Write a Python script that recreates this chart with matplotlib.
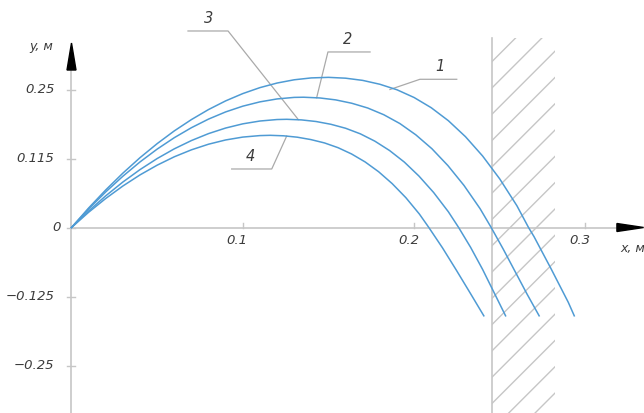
import numpy as np
import matplotlib.pyplot as plt
from matplotlib.patches import Polygon, Rectangle

# trajectories 1..4 (x, y in metres)
x1 = [0, 0.01, 0.02, 0.03, 0.04, 0.05, 0.06, 0.07, 0.08, 0.09, 0.10, 0.11, 0.12, 0.13, 0.14, 0.15,
      0.16, 0.17, 0.18, 0.19, 0.20, 0.21, 0.22, 0.23, 0.24, 0.25, 0.26, 0.2668, 0.27, 0.28, 0.29, 0.2935]
y1 = [0, 0.0353, 0.0681, 0.0985, 0.1265, 0.1519, 0.1750, 0.1955, 0.2137, 0.2294, 0.2426, 0.2534, 0.2617,
      0.2676, 0.2710, 0.2720, 0.2705, 0.2665, 0.2595, 0.2495, 0.2355, 0.2170, 0.1935, 0.1645, 0.1295,
      0.0880, 0.0395, 0.0, -0.0165, -0.0750, -0.1355, -0.1600]

x2 = [0, 0.01, 0.02, 0.03, 0.04, 0.05, 0.06, 0.07, 0.08, 0.09, 0.10, 0.11, 0.12, 0.13, 0.1355,
      0.1449, 0.1542, 0.1636, 0.1729, 0.1823, 0.1917, 0.2010, 0.2104, 0.2197, 0.2291, 0.2385, 0.245,
      0.252, 0.259, 0.266, 0.273]
y2 = [0, 0.0336, 0.0645, 0.0929, 0.1188, 0.1420, 0.1627, 0.1808, 0.1964, 0.2094, 0.2198, 0.2276, 0.2329,
      0.2357, 0.2360, 0.2347, 0.2312, 0.2251, 0.2165, 0.2043, 0.1883, 0.1679, 0.1427, 0.1123, 0.0763,
      0.0342, 0.0, -0.039, -0.080, -0.121, -0.160]

x3 = [0, 0.01, 0.02, 0.03, 0.04, 0.05, 0.06, 0.07, 0.08, 0.09, 0.10, 0.11, 0.12, 0.1257,
      0.1343, 0.1428, 0.1514, 0.1600, 0.1686, 0.1771, 0.1857, 0.1943, 0.2028, 0.2114, 0.2200, 0.226,
      0.233, 0.240, 0.2467, 0.2534]
y3 = [0, 0.0299, 0.0574, 0.0824, 0.1049, 0.1249, 0.1425, 0.1575, 0.1701, 0.1802, 0.1878, 0.1929, 0.1956,
      0.1960, 0.1949, 0.1920, 0.1870, 0.1798, 0.1697, 0.1564, 0.1394, 0.1185, 0.0933, 0.0634, 0.0285, 0.0,
      -0.036, -0.076, -0.118, -0.160]

x4 = [0, 0.01, 0.02, 0.03, 0.04, 0.05, 0.06, 0.07, 0.08, 0.09, 0.10, 0.11, 0.116,
      0.1239, 0.1318, 0.1397, 0.1477, 0.1556, 0.1635, 0.1714, 0.1793, 0.1872, 0.1952, 0.2031, 0.2086,
      0.2166, 0.2246, 0.2326, 0.2407]
y4 = [0, 0.0276, 0.0526, 0.0752, 0.0953, 0.1129, 0.1281, 0.1407, 0.1509, 0.1586, 0.1638, 0.1665, 0.1670,
      0.1661, 0.1636, 0.1593, 0.1532, 0.1446, 0.1332, 0.1188, 0.1010, 0.0795, 0.0540, 0.0243, 0.0,
      -0.037, -0.077, -0.118, -0.160]

xticks = [0.1, 0.2, 0.3]
xtick_labels = ['0.1', '0.2', '0.3']
yticks = [0.25, 0.125, 0, -0.125, -0.25]
ytick_labels = ['0.25', '0.115', '0', '\u22120.125', '\u22120.25']

wall_x = 0.2454  # obstacle face

# leader lines: point on curve, knee, shelf end, label position
leaders = [
    ('1', (0.1859, 0.2500), (0.2034, 0.2685), (0.2249, 0.2685), (0.2153, 0.2915)),
    ('2', (0.1431, 0.2350), (0.1497, 0.3180), (0.1743, 0.3180), (0.1614, 0.3400)),
    ('3', (0.1324, 0.1955), (0.0914, 0.3560), (0.0680, 0.3560), (0.0803, 0.3790)),
    ('4', (0.1256, 0.1655), (0.1169, 0.1060), (0.0935, 0.1060), (0.1042, 0.1280)),
]

W, H = 644, 413
fig = plt.figure(figsize=(W / 100, H / 100), dpi=100)
ax = fig.add_axes([0, 0, 1, 1])
x0, x1_ = -71.5 / 1713, (W - 71.5) / 1713
y0, y1_ = -(H - 227.5) / 552, 227.5 / 552
ax.set_xlim(x0, x1_)
ax.set_ylim(y0, y1_)
ax.axis('off')
sx = (x1_ - x0) / W   # data units per pixel
sy = (y1_ - y0) / H

axis_c = '#c6c6c6'
txt_c = '#3c3c3c'
blue = '#4f9bd4'
font = dict(family='DejaVu Sans', style='italic', color=txt_c)

# axes lines
ax.plot([0, 0], [y0, 0.30], color=axis_c, lw=1.2, zorder=1)
ax.plot([0, 0.32], [0, 0], color=axis_c, lw=1.2, zorder=1)

# arrow heads
ax.add_patch(Polygon([[0, 0.3342], [-4.5 * sx, 0.2853], [4.5 * sx, 0.2853]],
                     closed=True, color='black', zorder=3))
ax.add_patch(Polygon([[0.3340, 0], [0.3184, 4 * sy], [0.3184, -4 * sy]],
                     closed=True, color='black', zorder=3))

# ticks
for xt, lab in zip(xticks, xtick_labels):
    ax.plot([xt, xt], [0, 5 * sy], color=axis_c, lw=1.0)
    ax.text(xt + 5 * sx, -13 * sy, lab, ha='right', va='center', fontsize=9.5, **font)
for yt, lab in zip(yticks, ytick_labels):
    ax.plot([-4 * sx, 4 * sx], [yt, yt], color=axis_c, lw=1.0)
    off = 11 if yt == 0 else 17
    ax.text(-off * sx, yt, lab, ha='right', va='center', fontsize=9.5, **font)

ax.text(-42 * sx, 181 * sy, 'y, \u043c', ha='left', va='center', fontsize=9, **font)
ax.text(0.3355 - 26 * sx, -21 * sy, 'x, \u043c', ha='left', va='center', fontsize=9, **font)

# obstacle with hatching
top = y1_ - 38 * sy
ax.plot([wall_x, wall_x], [y0, top], color=axis_c, lw=1.2, zorder=1)
hx = 63 * sx
clip = Rectangle((wall_x, y0), hx, top - y0, transform=ax.transData, visible=False)
ax.add_patch(clip)
step = 26.3 * sy
start = top - 23.7 * sy
k = 0
while start - k * step > y0 - 70 * sy:
    yb = start - k * step
    ln, = ax.plot([wall_x, wall_x + hx], [yb, yb + 63 * sy], color=axis_c, lw=1.0, zorder=1)
    ln.set_clip_path(clip)
    k += 1

# trajectories
for xs, ys in [(x1, y1), (x2, y2), (x3, y3), (x4, y4)]:
    ax.plot(xs, ys, color=blue, lw=1.1, zorder=2, solid_joinstyle='round')

# leader lines and numbers
for lab, p, knee, end, tp in leaders:
    ax.plot([p[0], knee[0], end[0]], [p[1], knee[1], end[1]], color='#aaaaaa', lw=0.9, zorder=1)
    ax.text(tp[0], tp[1], lab, ha='center', va='center', fontsize=10.5, **font)

fig.savefig('out.png', dpi=100)
